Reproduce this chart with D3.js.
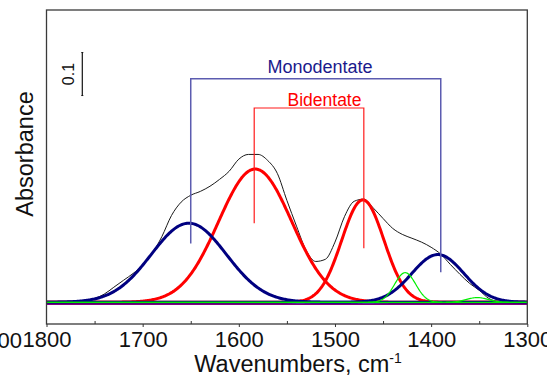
<!DOCTYPE html>
<html>
<head>
<meta charset="utf-8">
<script src="https://cdn.jsdelivr.net/npm/d3@7"></script>
<style>
body { margin: 0; background: #fff; }
svg { display: block; font-family: Arial, "Liberation Sans", sans-serif; }
</style>
</head>
<body>
<svg id="chart" width="547" height="378"></svg>
<script>
// measured spectrum, absorbance read every 10 cm-1 from 1800 down to 1300
var spectrumWn = d3.range(1800, 1299, -10);
var spectrumAbs = [0, 0, 0.001, 0.002, 0.005, 0.009, 0.019, 0.035, 0.051, 0.067,
    0.086, 0.114, 0.153, 0.202, 0.233, 0.249, 0.258, 0.270, 0.286, 0.305,
    0.333, 0.344, 0.344, 0.330, 0.300, 0.237, 0.177, 0.121, 0.095, 0.100,
    0.140, 0.200, 0.235, 0.240, 0.219, 0.195, 0.172, 0.158, 0.149, 0.140,
    0.128, 0.112, 0.088, 0.065, 0.044, 0.028, 0.009, 0.002, 0.001, 0.001, 0.002];

// fitted gaussian bands
var bandType = ["mono", "bi", "bi", "mono", "other", "other"];
var bandCenter = [1652, 1583, 1471, 1393, 1427, 1352];
var bandHeight = [0.184, 0.310, 0.238, 0.111, 0.069, 0.011];
var bandSigma = [39, 38, 22, 27, 11, 11];
var baselineAbs = -0.0047;

var xTicks = [1800, 1700, 1600, 1500, 1400, 1300];
var xMinorTicks = [1750, 1650, 1550, 1450, 1350];

// assignment brackets: band positions, leg ends and bar level (absorbance)
var monoPos = [1650, 1390];
var monoLegs = [0.137, 0.070];
var monoTop = 0.52;
var biPos = [1584, 1470];
var biLegs = [0.184, 0.126];
var biTop = 0.452;
var scaleBar = [0.481, 0.581];

var colors = { mono: "#000080", bi: "#ff0000", other: "#00ee00" };

var plot = { left: 46.5, right: 527.3, top: 10, bottom: 324 };
var x = d3.scaleLinear().domain([1800, 1300]).range([plot.left, plot.right]);
var y = d3.scaleLinear().domain([-0.0505, 0.680]).range([plot.bottom, plot.top]);

var svg = d3.select("#chart");

svg.append("clipPath").attr("id", "clip").append("rect")
    .attr("x", plot.left).attr("y", plot.top)
    .attr("width", plot.right - plot.left).attr("height", plot.bottom - plot.top);

var g = svg.append("g").attr("clip-path", "url(#clip)");

var line = d3.line().x(d => x(d[0])).y(d => y(d[1]));
var grid = d3.range(1800, 1299.5, -1);

function band(i) {
    return grid.map(w => [w, bandHeight[i] * Math.exp(-Math.pow(w - bandCenter[i], 2) / (2 * bandSigma[i] * bandSigma[i]))]);
}

// spectrum under the bands
g.append("path")
    .attr("d", line.curve(d3.curveMonotoneX)(spectrumWn.map((w, i) => [w, spectrumAbs[i]])))
    .attr("fill", "none").attr("stroke", "#1a1a1a").attr("stroke-width", 1);
line.curve(d3.curveLinear);

// red first, then blue, then green
["bi", "mono", "other"].forEach(function (t) {
    bandType.forEach(function (bt, i) {
        if (bt != t) return;
        g.append("path")
            .attr("d", line(band(i)))
            .attr("fill", "none")
            .attr("stroke", colors[t])
            .attr("stroke-width", t == "other" ? 1.2 : 3);
    });
});

g.append("path")
    .attr("d", line([[1800, baselineAbs], [1300, baselineAbs]]))
    .attr("stroke", "#800080").attr("stroke-width", 1.2);

// brackets
function bracket(pos, legs, top, stroke, width) {
    var pts = [[pos[0], legs[0]], [pos[0], top], [pos[1], top], [pos[1], legs[1]]];
    svg.append("path")
        .attr("d", line(pts))
        .attr("fill", "none").attr("stroke", stroke).attr("stroke-width", width);
}
bracket(monoPos, monoLegs, monoTop, "#5c5cb0", 1.5);
bracket(biPos, biLegs, biTop, "#ff1a1a", 1.2);

svg.append("text").attr("x", 320).attr("y", 73)
    .attr("text-anchor", "middle").attr("font-size", 18).attr("fill", "#1a1a8c")
    .text("Monodentate");
svg.append("text").attr("x", 324.5).attr("y", 105.5)
    .attr("text-anchor", "middle").attr("font-size", 17.5).attr("fill", "#ff0000")
    .text("Bidentate");

// 0.1 scale bar
var sbx = 82.3;
svg.append("line").attr("x1", sbx).attr("x2", sbx)
    .attr("y1", y(scaleBar[0])).attr("y2", y(scaleBar[1]))
    .attr("stroke", "#111").attr("stroke-width", 1.2);
scaleBar.forEach(v => svg.append("line")
    .attr("x1", sbx - 1).attr("x2", sbx + 1).attr("y1", y(v)).attr("y2", y(v))
    .attr("stroke", "#111"));
svg.append("text")
    .attr("transform", `translate(73.5,${(y(scaleBar[0]) + y(scaleBar[1])) / 2}) rotate(-90)`)
    .attr("text-anchor", "middle").attr("font-size", 16).attr("fill", "#111")
    .text((scaleBar[1] - scaleBar[0]).toFixed(1));

// frame
svg.append("rect")
    .attr("x", plot.left).attr("y", plot.top)
    .attr("width", plot.right - plot.left).attr("height", plot.bottom - plot.top)
    .attr("fill", "none").attr("stroke", "#3a3a3a").attr("stroke-width", 1.3);

// axes
var ax = svg.append("g")
    .attr("transform", `translate(0,${plot.bottom})`)
    .call(d3.axisBottom(x).tickValues(xTicks).tickSize(3).tickPadding(4).tickFormat(d3.format("d")));
ax.select(".domain").remove();
ax.attr("font-family", null).attr("font-size", 22);
ax.selectAll("text").attr("fill", "#111");
ax.selectAll("line").attr("stroke", "#333");

var axm = svg.append("g")
    .attr("transform", `translate(0,${plot.bottom})`)
    .call(d3.axisBottom(x).tickValues(xMinorTicks).tickSize(-3).tickFormat(""));
axm.select(".domain").remove();
axm.selectAll("line").attr("stroke", "#333");

// label of the tick left of the frame, cut by the page edge as in the original
svg.append("text").attr("x", 22).attr("y", 348)
    .attr("text-anchor", "end").attr("font-size", 22).attr("fill", "#111")
    .text("1900");

var xt = svg.append("text").attr("x", 298).attr("y", 372)
    .attr("text-anchor", "middle").attr("font-size", 23.5).attr("fill", "#111")
    .text("Wavenumbers, cm");
xt.append("tspan").attr("dy", -9).attr("font-size", 14).text("-1");

svg.append("text")
    .attr("transform", "translate(33,154) rotate(-90)")
    .attr("text-anchor", "middle").attr("font-size", 23.5).attr("fill", "#111")
    .text("Absorbance");
</script>
</body>
</html>
